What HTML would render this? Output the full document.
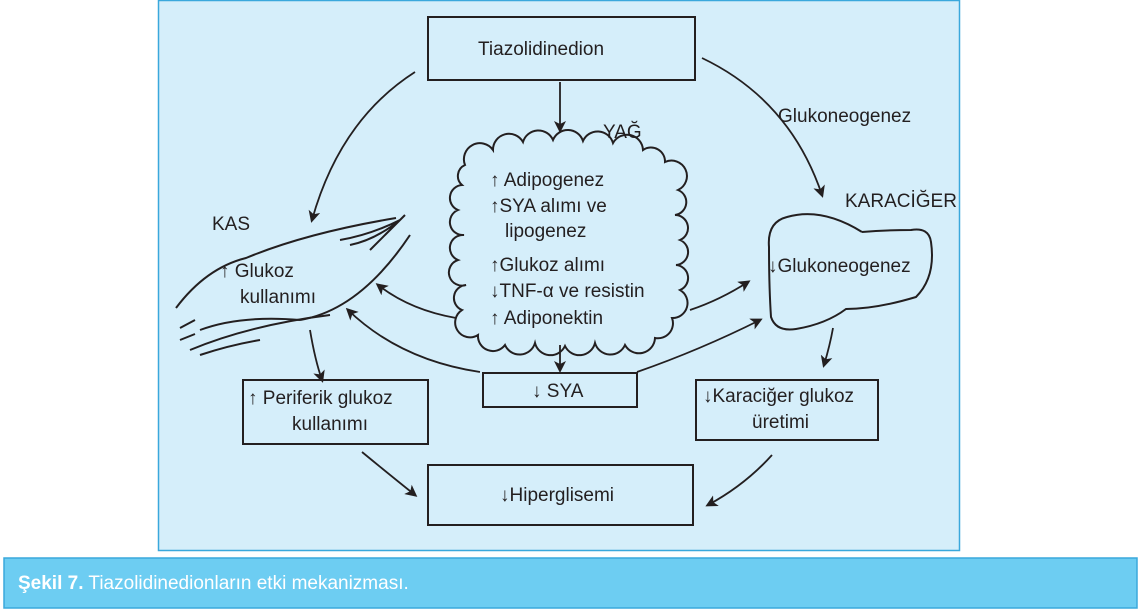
<!DOCTYPE html>
<html><head><meta charset="utf-8"><style>
body{margin:0;width:1141px;height:611px;background:#fff;overflow:hidden;font-family:"Liberation Sans",sans-serif}
</style></head><body>
<svg width="1141" height="611" xmlns="http://www.w3.org/2000/svg" font-family="Liberation Sans, sans-serif" font-size="19" fill="#231f20">
<defs><marker id="a" markerWidth="12" markerHeight="12" refX="9" refY="6" orient="auto" markerUnits="userSpaceOnUse"><path d="M0,0 L12,6 L0,12 L3,6z" fill="#231f20"/></marker></defs>
<rect x="158.5" y="0.5" width="801" height="550" fill="#d5eefa" stroke="#3aa8dc" stroke-width="1.5"/>
<rect x="4" y="558" width="1133" height="50" fill="#6dcdf2" stroke="#3aa8dc" stroke-width="1.5"/>
<text x="18" y="589" fill="#fff" font-size="19"><tspan font-weight="bold">Şekil 7.</tspan> Tiazolidinedionların etki mekanizması.</text>
<g fill="none" stroke="#231f20" stroke-width="2">
<rect x="428" y="17" width="267" height="63"/>
<rect x="483" y="373" width="154" height="34"/>
<rect x="243" y="380" width="185" height="64"/>
<rect x="696" y="380" width="182" height="60"/>
<rect x="428" y="465" width="265" height="60"/>
<path d="M465,165 A16,16 0 0 1 493,150 A16,16 0 0 1 523,142 A16,16 0 0 1 553,140 A16,16 0 0 1 583,141 A16,16 0 0 1 613,143 A16,16 0 0 1 643,150 A14,14 0 0 1 665,162 A15,15 0 0 1 678,190 A13,13 0 0 1 675,215 A13,13 0 0 1 680,240 A13,13 0 0 1 676,265 A13,13 0 0 1 680,290 A15,15 0 0 1 672,318 A15,15 0 0 1 655,338 A16,16 0 0 1 625,345 A16,16 0 0 1 595,343 A16,16 0 0 1 565,346 A16,16 0 0 1 535,343 A16,16 0 0 1 505,345 A15,15 0 0 1 478,335 A14,14 0 0 1 462,310 A13,13 0 0 1 466,285 A13,13 0 0 1 458,260 A13,13 0 0 1 464,235 A13,13 0 0 1 458,210 A13,13 0 0 1 462,185 A12,12 0 0 1 465,165z"/>
<path d="M862,232 q-40,-25 -75,-15 q-20,5 -18,30 q0,40 2,70 q5,15 25,12 q30,-5 50,-20 q30,0 70,-12 q20,-20 15,-55 q-2,-15 -20,-12 q-25,0 -49,2"/>
<path d="M176,308 q30,-40 70,-50 q60,-25 150,-40"/>
<path d="M300,320 q60,-10 110,-85"/>
<path d="M200,330 q40,-15 100,-10"/>
<path d="M190,350 q60,-25 140,-35"/>
<path d="M200,355 q30,-10 60,-15"/>
<path d="M180,340 l15,-6 M195,320 l-15,8 M340,240 q30,-5 60,-20 M350,245 q25,-5 50,-25 M370,250 l30,-30 M385,235 l20,-20"/>
</g>
<g fill="none" stroke="#231f20" stroke-width="1.8" marker-end="url(#a)">
<path d="M560,82 L560,130"/>
<path d="M415,72 Q340,120 312,220"/>
<path d="M702,58 Q790,100 822,195"/>
<path d="M560,345 L560,370"/>
<path d="M456,318 Q410,310 378,285"/>
<path d="M480,372 Q400,360 348,310"/>
<path d="M690,310 Q720,300 748,282"/>
<path d="M637,372 Q700,350 760,320"/>
<path d="M310,330 Q315,360 322,380"/>
<path d="M833,328 Q830,345 824,365"/>
<path d="M362,452 Q390,475 415,495"/>
<path d="M772,455 Q745,485 708,505"/>
</g>
<text x="478" y="55">Tiazolidinedion</text>
<text x="603" y="138">YAĞ</text>
<text x="778" y="122">Glukoneogenez</text>
<text x="845" y="207">KARACİĞER</text>
<text x="212" y="230">KAS</text>
<text x="220" y="277">↑ Glukoz</text>
<text x="240" y="303">kullanımı</text>
<text x="490" y="186">↑ Adipogenez</text>
<text x="490" y="212">↑SYA alımı ve</text>
<text x="505" y="237">lipogenez</text>
<text x="490" y="271">↑Glukoz alımı</text>
<text x="490" y="297">↓TNF-α ve resistin</text>
<text x="490" y="324">↑ Adiponektin</text>
<text x="768" y="272">↓Glukoneogenez</text>
<text x="532" y="397">↓ SYA</text>
<text x="248" y="404">↑  Periferik glukoz</text>
<text x="292" y="430">kullanımı</text>
<text x="703" y="402">↓Karaciğer glukoz</text>
<text x="752" y="428">üretimi</text>
<text x="500" y="501">↓Hiperglisemi</text>
</svg>
</body></html>
